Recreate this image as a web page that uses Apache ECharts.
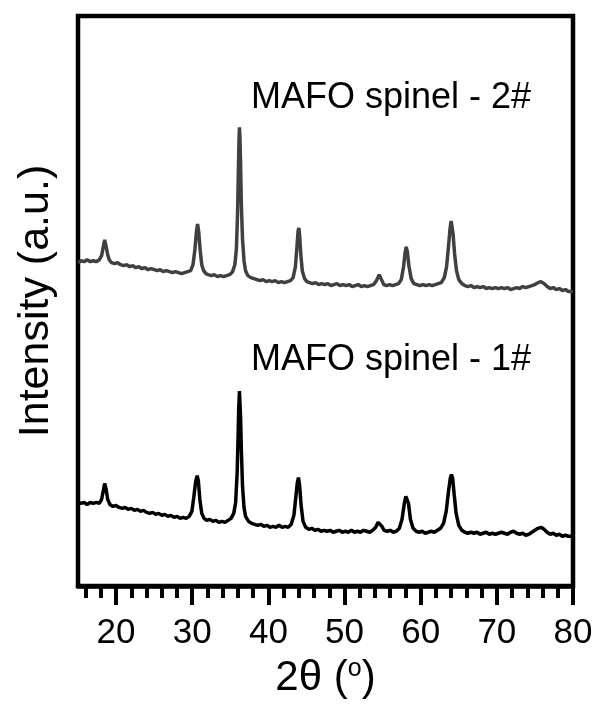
<!DOCTYPE html>
<html>
<head>
<meta charset="utf-8">
<script src="https://cdn.jsdelivr.net/npm/echarts@6/dist/echarts.min.js"></script>
<style>
  html, body { margin: 0; padding: 0; background: #fff; }
  #chart { width: 600px; height: 704px; }
</style>
</head>
<body>
<div id="chart"></div>
<script>
// XRD patterns of two MAFO spinel samples, 2θ in degrees vs. intensity (a.u.)
const majorTicks = [20, 30, 40, 50, 60, 70, 80];
const minorTicks = [16, 18, 22, 24, 26, 28, 32, 34, 36, 38, 42, 44, 46, 48,
                    52, 54, 56, 58, 62, 64, 66, 68, 72, 74, 76, 78];
const sampleNames = ['MAFO spinel - 1#', 'MAFO spinel - 2#'];

// sample 1# (lower pattern)
const sample1Pattern = [
  [15.0,84],[15.4,83],[15.8,84],[16.2,82],[16.6,84],[17.0,83],[17.4,84],[17.8,83],[18.1,87],[18.3,95],[18.5,103],[18.7,97],[18.9,87],[19.2,82],[19.6,80],[20.0,81],[20.4,79],[20.8,78],[21.2,79],[21.6,77],[22.0,78],[22.4,76],[22.8,77],[23.2,75],[23.6,76],[24.0,74],[24.4,73],[24.8,74],[25.2,72],[25.6,73],[26.0,71],[26.4,72],[26.8,70],[27.2,71],[27.6,69],[28.0,70],[28.4,68],[28.8,69],[29.2,68],[29.6,70],[29.95,75],[30.2,89],[30.45,105],[30.65,111],[30.8,106],[31.0,87],[31.25,73],[31.55,68],[31.9,66],[32.3,67],[32.7,65],[33.1,66],[33.5,64],[33.9,65],[34.3,64],[34.7,66],[35.1,68],[35.45,73],[35.7,84],[35.9,114],[36.0,144],[36.1,177],[36.2,196],[36.25,194],[36.35,169],[36.45,137],[36.6,101],[36.8,79],[37.0,70],[37.4,65],[37.8,63],[38.2,62],[38.6,61],[39.0,62],[39.4,60],[39.8,61],[40.2,59],[40.6,60],[41.0,59],[41.4,61],[41.8,59],[42.2,60],[42.6,59],[43.0,62],[43.35,71],[43.6,89],[43.8,104],[43.95,109],[44.1,101],[44.3,81],[44.55,65],[44.9,59],[45.3,57],[45.7,58],[46.1,56],[46.5,57],[46.9,55],[47.3,56],[47.7,55],[48.1,56],[48.5,54],[48.9,55],[49.3,56],[49.7,54],[50.1,55],[50.5,54],[50.9,56],[51.3,54],[51.7,55],[52.1,54],[52.5,56],[52.9,55],[53.3,54],[53.7,56],[54.1,59],[54.4,64],[54.65,65],[54.9,60],[55.2,56],[55.6,55],[56.0,56],[56.4,54],[56.8,55],[57.2,58],[57.55,67],[57.85,83],[58.05,90],[58.2,91],[58.4,83],[58.65,67],[59.0,58],[59.4,55],[59.8,54],[60.2,55],[60.6,53],[61.0,54],[61.4,55],[61.8,54],[62.2,56],[62.6,58],[63.0,63],[63.35,75],[63.65,95],[63.9,109],[64.05,112],[64.2,108],[64.4,92],[64.65,73],[65.0,61],[65.4,56],[65.8,54],[66.2,53],[66.6,54],[67.0,53],[67.4,54],[67.8,52],[68.2,53],[68.6,54],[69.0,52],[69.4,53],[69.8,52],[70.2,53],[70.6,54],[71.0,53],[71.4,52],[71.8,54],[72.2,55],[72.6,53],[73.0,52],[73.4,53],[73.8,51],[74.2,52],[74.6,54],[75.0,56],[75.4,58],[75.8,59],[76.2,57],[76.6,54],[77.0,52],[77.4,53],[77.8,51],[78.2,52],[78.6,50],[79.0,51],[79.4,50],[80.0,50]
];

// sample 2# (upper pattern, offset vertically)
const sample2Pattern = [
  [15.0,325],[15.4,327],[15.8,326],[16.2,328],[16.6,326],[17.0,327],[17.4,326],[17.8,328],[18.1,332],[18.3,340],[18.5,348],[18.7,341],[18.9,333],[19.1,328],[19.4,325],[19.8,324],[20.2,325],[20.6,323],[21.0,322],[21.4,323],[21.8,321],[22.2,322],[22.6,320],[23.0,321],[23.4,319],[23.8,320],[24.2,318],[24.6,319],[25.0,318],[25.4,317],[25.8,318],[26.2,316],[26.6,317],[27.0,316],[27.4,315],[27.8,316],[28.2,315],[28.6,314],[29.0,315],[29.4,316],[29.8,317],[30.1,323],[30.35,338],[30.55,356],[30.7,364],[30.85,356],[31.05,337],[31.25,323],[31.5,317],[31.8,314],[32.1,313],[32.5,312],[32.9,313],[33.3,311],[33.7,312],[34.1,311],[34.5,312],[34.9,313],[35.3,316],[35.6,323],[35.8,339],[35.95,374],[36.05,414],[36.15,451],[36.2,461],[36.25,454],[36.35,424],[36.45,384],[36.6,349],[36.8,327],[37.0,317],[37.3,312],[37.7,310],[38.1,309],[38.5,308],[38.9,307],[39.3,308],[39.7,306],[40.1,307],[40.5,306],[40.9,307],[41.3,305],[41.7,306],[42.1,305],[42.5,306],[42.9,307],[43.25,310],[43.55,321],[43.75,341],[43.9,357],[44.0,360],[44.1,353],[44.25,334],[44.45,317],[44.75,309],[45.05,306],[45.4,305],[45.8,304],[46.2,305],[46.6,303],[47.0,304],[47.4,303],[47.8,304],[48.2,302],[48.6,303],[49.0,304],[49.4,302],[49.8,303],[50.2,302],[50.6,303],[51.0,301],[51.4,302],[51.8,303],[52.2,301],[52.6,302],[53.0,301],[53.4,302],[53.8,303],[54.2,307],[54.55,313],[54.85,308],[55.15,303],[55.5,302],[55.9,303],[56.3,302],[56.7,303],[57.1,304],[57.45,308],[57.75,321],[57.95,335],[58.1,341],[58.25,336],[58.45,322],[58.75,309],[59.1,304],[59.5,303],[59.9,302],[60.3,303],[60.7,302],[61.1,303],[61.5,302],[61.9,303],[62.3,304],[62.7,305],[63.1,310],[63.4,321],[63.65,341],[63.85,359],[64.0,367],[64.1,366],[64.25,354],[64.45,334],[64.7,317],[65.0,308],[65.4,304],[65.8,302],[66.2,301],[66.6,302],[67.0,300],[67.4,301],[67.8,300],[68.2,301],[68.6,299],[69.0,300],[69.4,299],[69.8,300],[70.2,299],[70.6,300],[71.0,299],[71.4,300],[71.8,298],[72.2,299],[72.6,300],[73.0,299],[73.4,301],[73.8,300],[74.2,301],[74.6,302],[75.0,303],[75.4,305],[75.8,306],[76.2,304],[76.6,301],[77.0,299],[77.4,300],[77.8,298],[78.2,299],[78.6,297],[79.0,298],[79.4,296],[80.0,296]
];

const FONT = '"Liberation Sans", Arial, Helvetica, sans-serif';
const chart = echarts.init(document.getElementById('chart'), null, { renderer: 'canvas' });

chart.setOption({
  animation: false,
  backgroundColor: '#fff',
  grid: {
    left: 78, right: 27, top: 16, bottom: 115,
    show: true, borderColor: '#000', borderWidth: 4.5, backgroundColor: 'transparent'
  },
  xAxis: [
    {
      type: 'value', min: 15, max: 80, position: 'bottom',
      axisLine: { show: true, lineStyle: { color: '#000', width: 4.5 } },
      axisTick: { show: true, length: 19, customValues: majorTicks,
                  lineStyle: { color: '#000', width: 4 } },
      axisLabel: { show: true, customValues: majorTicks, margin: 30,
                   fontSize: 35, color: '#000', fontFamily: FONT },
      splitLine: { show: false },
      name: '2θ ({sup|o})',
      nameLocation: 'middle',
      nameGap: 71,
      nameTextStyle: {
        fontSize: 42, color: '#000', fontFamily: FONT,
        rich: { sup: { fontSize: 25, color: '#000', fontFamily: FONT, verticalAlign: 'top' } }
      }
    },
    {
      // minor ticks every 2°
      type: 'value', min: 15, max: 80, position: 'bottom',
      axisLine: { show: false },
      axisTick: { show: true, length: 12, customValues: minorTicks,
                  lineStyle: { color: '#000', width: 4 } },
      axisLabel: { show: false },
      splitLine: { show: false }
    }
  ],
  yAxis: {
    type: 'value', min: 0, max: 573,
    axisLine: { show: false }, axisTick: { show: false },
    axisLabel: { show: false }, splitLine: { show: false },
    name: 'Intensity (a.u.)',
    nameLocation: 'middle',
    nameGap: 20,
    nameTextStyle: { fontSize: 43, color: '#000', fontFamily: FONT }
  },
  series: [
    {
      name: sampleNames[1], type: 'line', data: sample2Pattern,
      showSymbol: false, smooth: false, silent: true,
      lineStyle: { color: '#404040', width: 3.5 }
    },
    {
      name: sampleNames[0], type: 'line', data: sample1Pattern,
      showSymbol: false, smooth: false, silent: true,
      lineStyle: { color: '#000', width: 3.5 }
    }
  ],
  graphic: [
    { type: 'text', left: 251, top: 80,
      style: { text: sampleNames[1], font: '36px ' + FONT, fill: '#000' } },
    { type: 'text', left: 251, top: 342,
      style: { text: sampleNames[0], font: '36px ' + FONT, fill: '#000' } }
  ]
});
</script>
</body>
</html>
